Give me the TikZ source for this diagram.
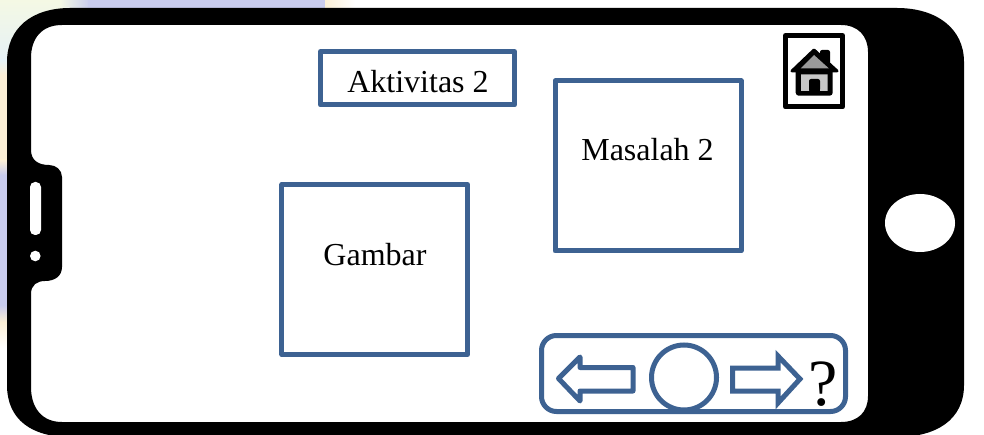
\documentclass[tikz,border=0pt]{standalone}
\usepackage{fontspec}
\setmainfont{Liberation Serif}
\definecolor{frameblue}{HTML}{3D6292}
\definecolor{lav}{HTML}{C9CCEE}
\definecolor{creamy}{HTML}{FBEFD6}
\definecolor{paleblue}{HTML}{E6F2F6}
\definecolor{paleyel}{HTML}{F4F8E4}
\tikzset{
  x=1pt,y=-1pt,
  bluebox/.style={draw=frameblue,line width=5pt,line join=round,inner sep=0pt,fill=white},
  bluearrow/.style={draw=frameblue,line width=5pt,fill=white},
  lbl/.style={anchor=base,inner sep=0pt,text=black},
}
\begin{document}
\begin{tikzpicture}
\useasboundingbox (0,0) rectangle (984,435);
\clip (0,0) rectangle (984,435);
\fill[white] (0,0) rectangle (984,435);
% faint background remains
\shade[top color=paleyel,bottom color=paleblue] (0,0) -- (60,0) -- (60,12) -- (32,24) -- (16,42) -- (12,60) -- (0,60) -- cycle;
\shade[left color=paleyel,right color=lav] (60,0) rectangle (90,12);
\fill[lav] (88,0) rectangle (325,12);
\shade[left color=creamy,right color=white] (325,0) rectangle (355,12);
\shade[top color=paleblue,bottom color=creamy] (0,60) rectangle (12,75);
\fill[creamy] (0,75) rectangle (12,160);
\shade[top color=creamy,bottom color=lav] (0,160) rectangle (12,175);
\fill[lav] (0,175) rectangle (12,305);
\shade[top color=lav,bottom color=creamy] (0,305) rectangle (12,322);
\shade[top color=creamy,bottom color=white] (0,322) rectangle (12,348);
% phone body
\fill[black,even odd rule]
  (70,8) -- (897,8)
  .. controls (936,8) and (964,28) .. (964,62)
  -- (964,385)
  .. controls (964,420) and (936,437) .. (897,437)
  -- (70,437)
  .. controls (32,437) and (7,420) .. (7,385)
  -- (7,62)
  .. controls (7,28) and (32,8) .. (70,8) -- cycle
  % screen with side notch
  (62,25) -- (841,25)
  .. controls (858,25) and (868,36) .. (868,52)
  -- (868,396)
  .. controls (868,412) and (858,422) .. (841,422)
  -- (62,422)
  .. controls (42,422) and (31,408) .. (31,387)
  -- (31,294)
  .. controls (31,285) and (37,281) .. (45,281)
  .. controls (55,281) and (62,276) .. (62,267)
  -- (62,177)
  .. controls (62,170) and (56,165) .. (49,165)
  .. controls (38,165) and (31,160) .. (31,150)
  -- (31,58)
  .. controls (31,38) and (42,25) .. (62,25) -- cycle;
% speaker, camera, home button
\fill[white,rounded corners=5pt] (30,182) rectangle (41,235);
\fill[white] (35.3,256) circle[radius=5.3];
\fill[white] (920,223) ellipse[x radius=35,y radius=29];
% boxes
\node[bluebox,minimum width=194pt,minimum height=53.5pt] (akt) at (417.5,78.2) {};
\node[bluebox,minimum width=186pt,minimum height=170pt] (mas) at (648,166) {};
\node[bluebox,minimum width=185.5pt,minimum height=170pt] (gam) at (374.7,269.5) {};
\node[lbl] (akttext) at (418,93) {\fontsize{32}{32}\selectfont Aktivitas 2};
\node[lbl] (mastext) at (647.5,161) {\fontsize{32}{32}\selectfont Masalah 2};
\node[lbl] (gamtext) at (375,265.5) {\fontsize{32}{32}\selectfont Gambar};
% toolbar
\node[bluebox,rounded corners=15pt,minimum width=304pt,minimum height=76pt] (bar) at (693.5,373.5) {};
\node[draw=frameblue,line width=5pt,circle,inner sep=0pt,minimum size=65pt,fill=white] (okbtn) at (684,377.5) {};
\draw[bluearrow,line join=round] (558.5,378.5) -- (580,357) -- (580,367.5) -- (633,367.5) -- (633,391) -- (580,391) -- (580,401) -- cycle;
\draw[bluearrow,line join=miter] (732.5,368) -- (778,368) -- (778,356) -- (800,379) -- (778,403) -- (778,391) -- (732.5,391) -- cycle;
\node[lbl] (help) at (823,405.5) {\fontsize{66}{66}\selectfont ?};
% home icon
\node[draw=black,line width=5pt,line join=round,inner sep=0pt,minimum width=57pt,minimum height=71.5pt,fill=white] (homebox) at (814,71.2) {};
\fill[black,rounded corners=2pt] (820,50) rectangle (830,70);
\fill[black,line join=round,draw=black,line width=3pt] (814,50) -- (837,71) -- (792,71) -- cycle;
\fill[black,rounded corners=3pt] (795.7,68) rectangle (832.7,95.7);
\fill[black!40] (814,55) -- (829,68.5) -- (800.5,68.5) -- cycle;
\fill[black!22] (801,74.5) -- (827.5,74.5) -- (827.5,91) -- (820,91) -- (820,82) -- (809,82) -- (809,91) -- (801,91) -- cycle;
\fill[black,rounded corners=2pt] (809,79) rectangle (820,91);
\end{tikzpicture}
\end{document}
